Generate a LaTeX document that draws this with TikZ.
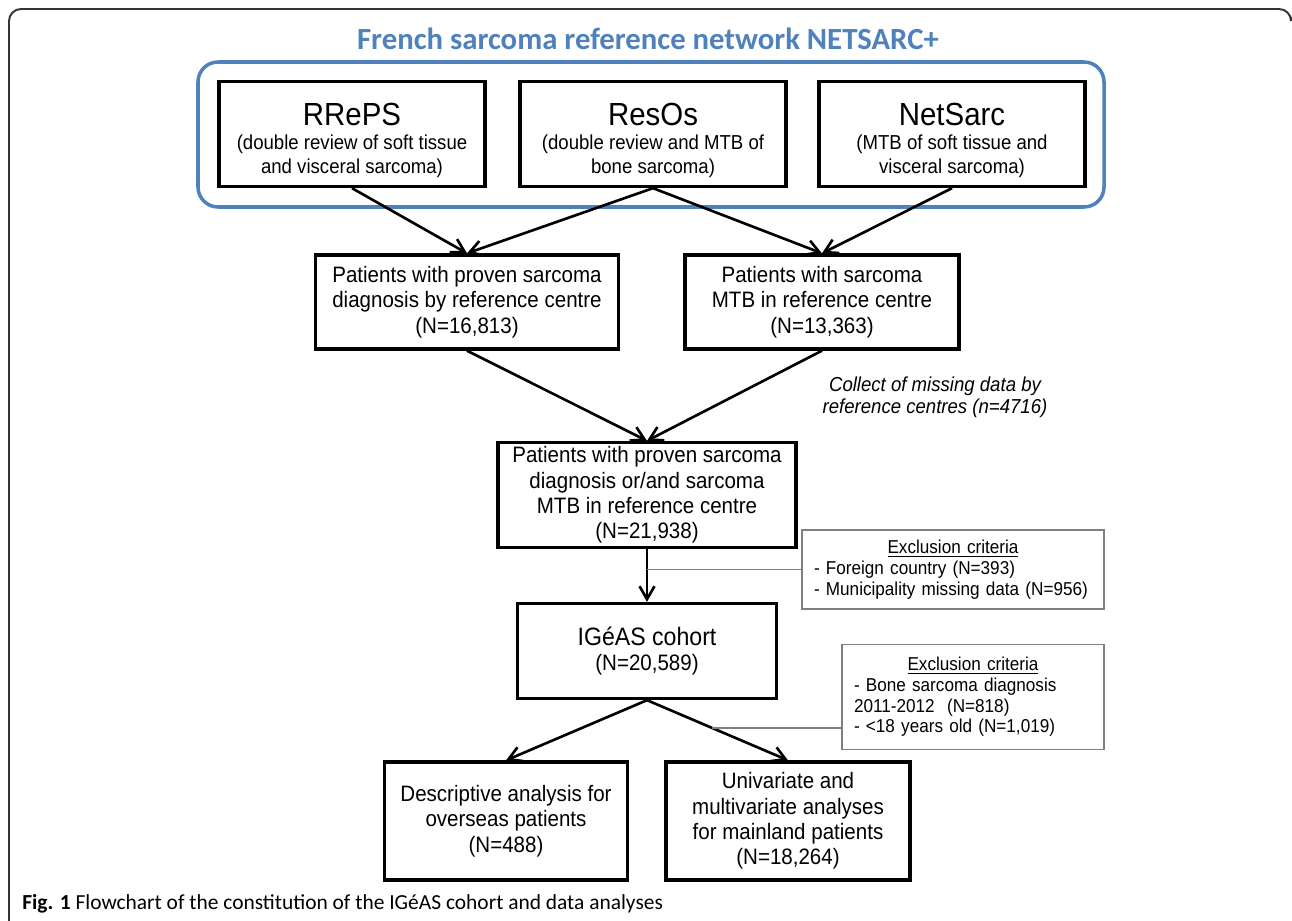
\documentclass[tikz,border=0pt]{standalone}
\usepackage{fontspec}
\setmainfont{Liberation Sans}[FakeStretch=0.92]
\newfontfamily\titlefont{Carlito}
\usepackage{xcolor}
\usetikzlibrary{arrows.meta,calc}

\definecolor{netblue}{HTML}{4F81BD}
\definecolor{exclgray}{HTML}{808080}
\definecolor{framegray}{HTML}{333333}

\tikzset{
  flowbox/.style={draw, line width=1.9pt, align=center, inner sep=0pt,
    font=\fontsize{12.7}{14.4}\selectfont},
  exclbox/.style={draw=exclgray, line width=0.8pt, align=left, inner sep=0pt,
    inner xsep=2.4mm, font=\fontsize{10.6}{11.8}\selectfont},
  flowarrow/.style={-{Straight Barb[length=2.6mm,width=3mm,line width=1.5pt]},
    line width=1.5pt},
  exclline/.style={draw=exclgray, line width=0.8pt}
}

\begin{document}
\begin{tikzpicture}[x=0.2mm, y=-0.2mm]
				\useasboundingbox (0,0) rectangle (1292,921);
				
				% 外框
				\draw[framegray, line width=1.1pt, rounded corners=2.4mm] (9,921) -- (9,9) -- (1291,9) -- (1291,17);
				
				% 标题与网络框
				\node (title) at (648,39) {\titlefont\bfseries\color{netblue}\fontsize{17.5}{20}\selectfont French sarcoma reference network NETSARC+};
				\draw[netblue, line width=2pt, rounded corners=4mm] (198,62) rectangle (1104,207);
				
				% 三个网络
				\foreach \nm/\x/\hd/\sb in {rreps/352/RRePS/{(double review of soft tissue\\and visceral sarcoma)},
					resos/653/ResOs/{(double review and MTB of\\bone sarcoma)},
					netsarc/952/NetSarc/{(MTB of soft tissue and\\visceral sarcoma)}}
				\node[flowbox, font=\fontsize{11.5}{13.7}\selectfont, minimum width=53.2mm, minimum height=21mm] (\nm) at (\x,134) {\rule{0pt}{20pt}{\fontsize{18.2}{20}\selectfont \hd}\\[0pt] \sb};
				
				% 患者
				\node[flowbox, minimum width=60.6mm, minimum height=18.8mm] (diag) at (467,302) {Patients with proven sarcoma\\diagnosis by reference centre\\(N=16,813)};
				\node[flowbox, minimum width=54.8mm, minimum height=18.8mm] (mtb) at (822,302) {Patients with sarcoma\\MTB in reference centre\\(N=13,363)};
				\node[font=\itshape\fontsize{11.5}{12.6}\selectfont, align=center] (collect) at (935,397) {Collect of missing data by\\reference centres (n=4716)};
				\node[flowbox, minimum width=59.6mm, minimum height=21mm] (both) at (647,495) {Patients with proven sarcoma\\diagnosis or/and sarcoma\\MTB in reference centre\\(N=21,938)};
				\node[flowbox, minimum width=51.8mm, minimum height=19mm] (igeas) at (647,651) {{\fontsize{14.3}{16}\selectfont IGéAS cohort}\\(N=20,589)};
				\node[flowbox, minimum width=48.6mm, minimum height=23.6mm] (desc) at (506,821) {Descriptive analysis for\\overseas patients\\(N=488)};
				\node[flowbox, minimum width=48.8mm, minimum height=23.6mm] (univ) at (788,821) {Univariate and\\multivariate analyses\\for mainland patients\\(N=18,264)};
				
				% 排除标准
				\node[exclbox, text width=55.6mm, minimum height=15.8mm] (excl1) at (953,569.5) {{\centering\underline{Exclusion criteria}\par}- Foreign country (N=393)\\- Municipality missing data (N=956)};
				\node[exclbox, text width=47.6mm, minimum height=21mm] (excl2) at (973,697) {{\centering\underline{Exclusion criteria}\par}- Bone sarcoma diagnosis\\2011-2012\ \ (N=818)\\- <18 years old (N=1,019)};
				
				% 箭头
				\foreach \a/\b in {rreps/diag, resos/diag, resos/mtb, netsarc/mtb, diag/both, mtb/both, both/igeas, igeas/desc, igeas/univ}
				\draw[flowarrow] (\a.south) -- (\b.north);
				
				\coordinate (cut) at ($(igeas.south)!0.46!(univ.north)$);
				\draw[exclline] (excl1.west) -- (excl1.west -| both.south);
				\draw[exclline] (cut -| excl2.west) -- (cut);
				
				% 图注
				\node[anchor=west, inner sep=0pt, font=\titlefont\fontsize{12.2}{14}\selectfont] (caption) at (22,904) {\textbf{Fig. 1} Flowchart of the constitution of the IGéAS cohort and data analyses};
				
			\end{tikzpicture}
\end{document}
